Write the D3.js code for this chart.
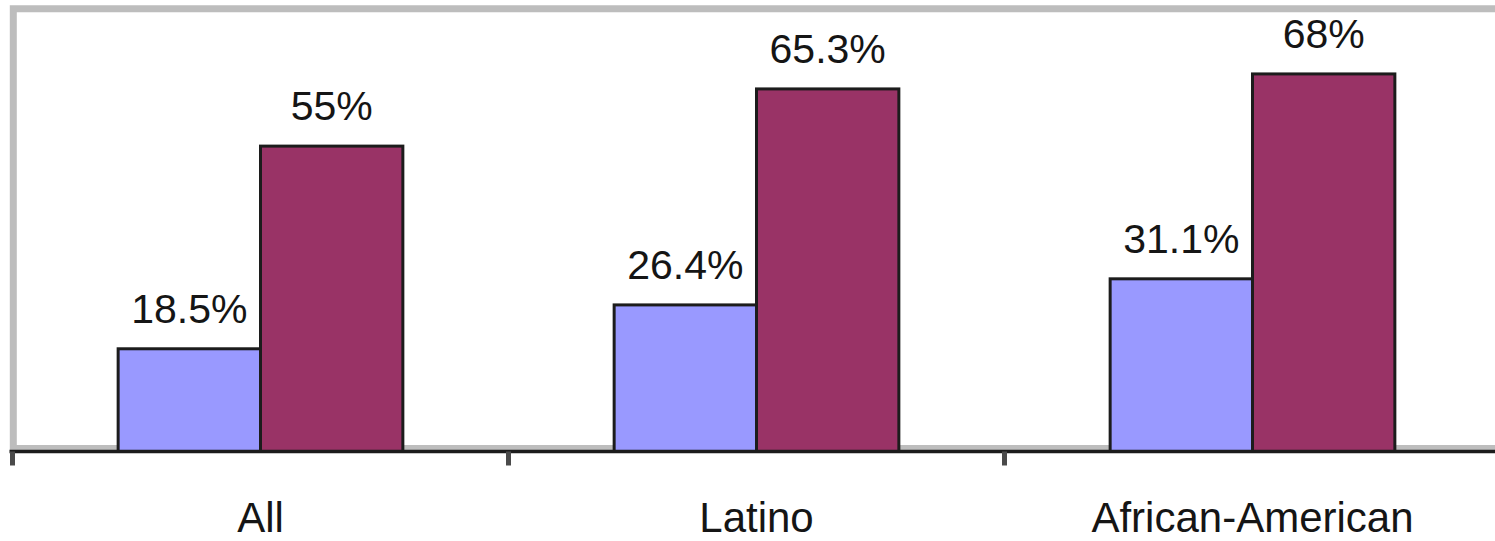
<!DOCTYPE html>
<html>
<head>
<meta charset="utf-8">
<script src="https://cdn.jsdelivr.net/npm/d3@7"></script>
<style>
  html, body { margin: 0; padding: 0; background: #fff; overflow: hidden; }
  svg { display: block; }
  text { font-family: "Liberation Sans", Arial, sans-serif; fill: #151515; }
</style>
</head>
<body>
<svg id="chart" width="1495" height="541"></svg>
<script>
const categories = ["All", "Latino", "African-American"];
const seriesNames = ["Series A", "Series B"];
const seriesA = [18.5, 26.4, 31.1];
const seriesB = [55, 65.3, 68];
const labelsA = ["18.5%", "26.4%", "31.1%"];
const labelsB = ["55%", "65.3%", "68%"];
const colors = ["#9999ff", "#993366"];

const svg = d3.select("#chart");
const mLeft = 12.5, mRight = 1500.5, mTop = 7.3, mBottom = 451.5;

const x0 = d3.scaleBand().domain(categories).range([mLeft, mRight]).paddingInner(0).paddingOuter(0);
const groupWidth = x0.bandwidth() * 0.574;
const x1 = d3.scaleBand().domain(seriesNames).range([0, groupWidth]).padding(0);
const y = d3.scaleLinear().domain([0, 80]).range([mBottom, mTop]);

// plot area border (top, left, bottom; right edge lies outside the picture)
const bx = mLeft + 0.8, by = mTop + 1.5, bb = mBottom - 3;
svg.append("path")
  .attr("d", `M1600,${by}H${bx}V${bb}H1600`)
  .attr("fill", "none").attr("stroke", "#bdbdbd").attr("stroke-width", 7);

const data = categories.map((c, i) => ({ cat: c, vals: [
  { s: seriesNames[0], v: seriesA[i], label: labelsA[i], color: colors[0] },
  { s: seriesNames[1], v: seriesB[i], label: labelsB[i], color: colors[1] }
]}));

const groups = svg.append("g").selectAll("g").data(data).join("g")
  .attr("transform", d => `translate(${x0(d.cat) + (x0.bandwidth() - groupWidth) / 2},0)`);

groups.selectAll("rect").data(d => d.vals).join("rect")
  .attr("x", d => x1(d.s))
  .attr("y", d => y(d.v))
  .attr("width", x1.bandwidth())
  .attr("height", d => y(0) - y(d.v))
  .attr("fill", d => d.color)
  .attr("stroke", "#1c1c1c")
  .attr("stroke-width", 3);

groups.selectAll("text").data(d => d.vals).join("text")
  .attr("x", d => x1(d.s) + x1.bandwidth() / 2)
  .attr("y", d => y(d.v) - 26)
  .attr("text-anchor", "middle")
  .attr("font-size", 41)
  .text(d => d.label);

// x axis
const axis = d3.axisBottom(x0).tickSize(0).tickPadding(0).tickFormat("");
const ag = svg.append("g").attr("transform", `translate(0,${mBottom})`).call(axis);
ag.select(".domain").attr("stroke", "#1c1c1c").attr("stroke-width", 3.5)
  .attr("d", `M${mLeft - 3},0H${mRight}`);
ag.selectAll(".tick").remove();

// boundary ticks
const tickPos = categories.map(c => x0(c)).concat([mRight]);
svg.append("g").selectAll("line").data(tickPos).join("line")
  .attr("x1", d => d).attr("x2", d => d)
  .attr("y1", mBottom).attr("y2", mBottom + 14)
  .attr("stroke", "#4a4a4a").attr("stroke-width", 5);

// category labels
svg.append("g").selectAll("text").data(categories).join("text")
  .attr("x", d => x0(d) + x0.bandwidth() / 2)
  .attr("y", 532)
  .attr("text-anchor", "middle")
  .attr("font-size", 42)
  .text(d => d);
</script>
</body>
</html>
